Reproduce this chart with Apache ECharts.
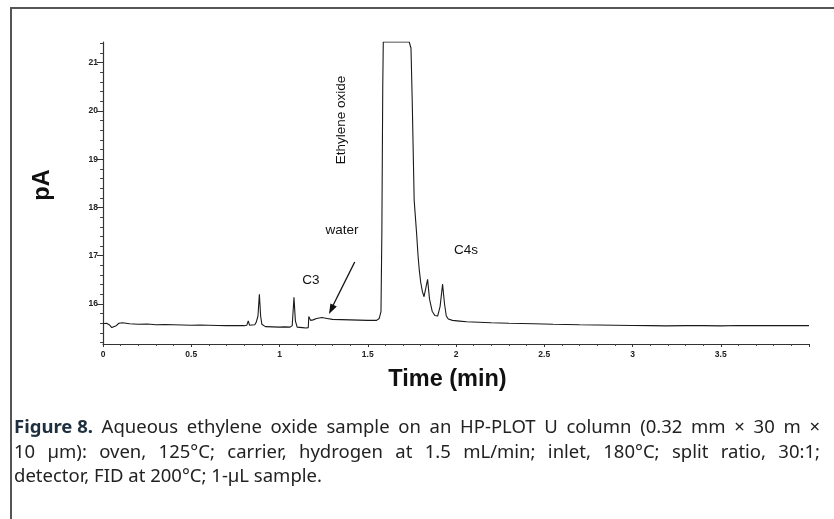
<!DOCTYPE html>
<html>
<head>
<meta charset="utf-8">
<script src="https://cdn.jsdelivr.net/npm/echarts@6/dist/echarts.min.js"></script>
<style>
html,body{margin:0;padding:0;background:#fff;}
#chart{width:834px;height:519px;}
</style>
</head>
<body>
<div id="chart"></div>
<script>
// ---- data ----
const times = [0.00,0.02,0.035,0.05,0.06,0.075,0.09,0.11,0.15,0.20,0.25,0.30,0.35,0.40,0.45,0.50,0.55,0.60,0.65,0.70,0.75,0.80,
  0.815,0.823,0.83,0.86,0.868,0.878,0.886,0.893,0.90,0.92,0.96,1.00,1.03,1.06,1.072,1.082,1.09,1.10,1.13,1.15,1.163,1.166,1.170,1.176,
  1.19,1.21,1.24,1.27,1.30,1.35,1.40,1.45,1.50,1.55,1.565,1.575,1.580,1.585,1.588,1.735,1.745,1.752,1.763,1.770,1.777,1.785,1.792,
  1.80,1.81,1.819,1.83,1.839,1.85,1.865,1.88,1.896,1.91,1.924,1.935,1.945,1.956,1.98,2.02,2.06,2.13,2.20,2.30,2.44,2.55,2.70,2.80,
  2.90,3.00,3.10,3.19,3.30,3.40,3.50,3.60,3.70,3.80,3.90,4.00];
const signal = [15.59,15.60,15.57,15.51,15.50,15.55,15.60,15.61,15.59,15.58,15.585,15.57,15.575,15.57,15.565,15.56,15.565,15.56,15.555,15.55,15.555,15.55,
  15.56,15.65,15.56,15.57,15.62,15.75,16.20,15.75,15.58,15.53,15.525,15.52,15.525,15.52,15.55,16.14,15.65,15.52,15.51,15.50,15.51,15.74,15.77,15.66,
  15.67,15.70,15.72,15.70,15.68,15.675,15.67,15.665,15.66,15.66,15.70,15.84,17.5,20.5,21.43,21.43,21.3,20.2,18.15,17.8,17.45,17.0,16.7,
  16.45,16.25,16.15,16.35,16.51,16.10,15.85,15.76,15.75,15.95,16.41,16.00,15.75,15.69,15.66,15.645,15.63,15.62,15.61,15.60,15.59,15.58,15.57,15.565,
  15.56,15.555,15.55,15.545,15.55,15.55,15.545,15.555,15.55,15.55,15.552,15.55];

// ---- axis tick labels ----
const xTickLabels = [0,0.5,1,1.5,2,2.5,3,3.5];
const yTickLabels = [16,17,18,19,20,21];
const yMinorTicks = [15.2,15.4,15.6,15.8,16.2,16.4,16.6,16.8,17.2,17.4,17.6,17.8,18.2,18.4,18.6,18.8,
  19.2,19.4,19.6,19.8,20.2,20.4,20.6,20.8,21.2,21.4];

// ---- texts ----
const xTitle = 'Time (min)';
const yTitle = 'pA';
const peakLabels = ['Ethylene oxide','water','C3','C4s'];
const captionLead = 'Figure 8.';
const captionLines = [
  'Aqueous ethylene oxide sample on an HP-PLOT U column (0.32 mm × 30 m ×',
  '10 µm): oven, 125°C; carrier, hydrogen at 1.5 mL/min; inlet, 180°C; split ratio, 30:1;',
  'detector, FID at 200°C; 1-µL sample.'
];

const chart = echarts.init(document.getElementById('chart'), null, {renderer:'canvas'});

const sansFont = '"Liberation Sans",Arial,sans-serif';
const capFont = '"Noto Sans","Open Sans",sans-serif';
const capColor = '#222';
const leadColor = '#1e2f3f';
const capSize = 18.5;
const cv = document.createElement('canvas').getContext('2d');
function measure(txt, bold){ cv.font = (bold?'bold ':'') + capSize + 'px ' + capFont; return cv.measureText(txt).width; }
const capLeft = 14, capRight = 820;

// justified caption line: place words so the line fills the target width
function justified(tokens, boldFirst, y, left, right){
  const widths = tokens.map((t,i)=>measure(t, boldFirst && i===0));
  const total = widths.reduce((a,b)=>a+b,0);
  const gap = (right-left-total)/(tokens.length-1);
  let x = left; const out = [];
  tokens.forEach((t,i)=>{
    const bold = boldFirst && i===0;
    out.push({type:'text', x:x, y:y, silent:true,
      style:{text:t, fontFamily:capFont, fontSize:capSize, fontWeight:bold?'bold':'normal',
        fill:bold?leadColor:capColor, textVerticalAlign:'middle', textAlign:'left'}});
    x += widths[i] + gap;
  });
  return out;
}
const capGraphics = [].concat(
  justified([captionLead].concat(captionLines[0].split(' ')), true, 428, capLeft, capRight),
  justified(captionLines[1].split(' '), false, 453, capLeft, capRight),
  [{type:'text', x:capLeft, y:477, silent:true,
    style:{text:captionLines[2], fontFamily:capFont, fontSize:capSize, fill:capColor, textVerticalAlign:'middle'}}]
);

const lineData = times.map((t,i)=>[t, signal[i]]);

const tickLbl = {fontFamily:sansFont, fontWeight:'bold', fontSize:8.5, color:'#222'};
const annStyle = {fontFamily:sansFont, fontSize:13.5, fill:'#111', textAlign:'center', textVerticalAlign:'middle'};

chart.setOption({
  animation:false,
  backgroundColor:'#fff',
  grid:{left:103, right:25, top:42, bottom:175},
  xAxis:{
    type:'value', min:0, max:4, interval:0.5,
    axisLine:{lineStyle:{color:'#333', width:1.2}},
    axisTick:{length:3, lineStyle:{color:'#333'}},
    minorTick:{show:true, splitNumber:5, length:2, lineStyle:{color:'#444'}},
    axisLabel:Object.assign({customValues:xTickLabels, margin:6, formatter:v=>String(v)}, tickLbl),
    splitLine:{show:false}
  },
  yAxis:[{
    type:'value', min:15.17, max:21.43,
    axisLine:{show:true, lineStyle:{color:'#333', width:1.2}},
    axisTick:{show:true, customValues:yTickLabels, length:6, lineStyle:{color:'#333'}},
    axisLabel:Object.assign({customValues:yTickLabels, margin:5, formatter:v=>String(v)}, tickLbl),
    splitLine:{show:false}
  },{
    type:'value', min:15.17, max:21.43, position:'left',
    axisLine:{show:false},
    axisTick:{show:true, customValues:yMinorTicks, length:3, lineStyle:{color:'#444'}},
    axisLabel:{show:false},
    splitLine:{show:false}
  }],
  series:[{
    type:'line', data:lineData, yAxisIndex:0, showSymbol:false, smooth:false,
    lineStyle:{color:'#1a1a1a', width:1.1}
  }],
  graphic:[
    {type:'line', shape:{x1:10, y1:8, x2:834, y2:8}, style:{stroke:'#555', lineWidth:2}},
    {type:'line', shape:{x1:11, y1:8, x2:11, y2:519}, style:{stroke:'#555', lineWidth:2}},
    {type:'text', x:42.5, y:185, rotation:Math.PI/2,
      style:{text:yTitle, fontFamily:sansFont, fontWeight:'bold', fontSize:23.5, fill:'#111', textAlign:'center', textVerticalAlign:'middle'}},
    {type:'text', x:447.5, y:380,
      style:{text:xTitle, fontFamily:sansFont, fontWeight:'bold', fontSize:23.5, fill:'#111', textAlign:'center', textVerticalAlign:'middle'}},
    {type:'text', x:341, y:120, rotation:Math.PI/2, style:Object.assign({text:peakLabels[0]}, annStyle)},
    {type:'text', x:342, y:230, style:Object.assign({text:peakLabels[1]}, annStyle)},
    {type:'text', x:311, y:280, style:Object.assign({text:peakLabels[2]}, annStyle)},
    {type:'text', x:466, y:250, style:Object.assign({text:peakLabels[3]}, annStyle)},
    {type:'line', shape:{x1:354.7, y1:262, x2:333, y2:305.5}, style:{stroke:'#111', lineWidth:1.3}},
    {type:'polygon', shape:{points:[[329,314],[336.8,306.6],[330.4,303.4]]}, style:{fill:'#111'}}
  ].concat(capGraphics)
});
</script>
</body>
</html>
